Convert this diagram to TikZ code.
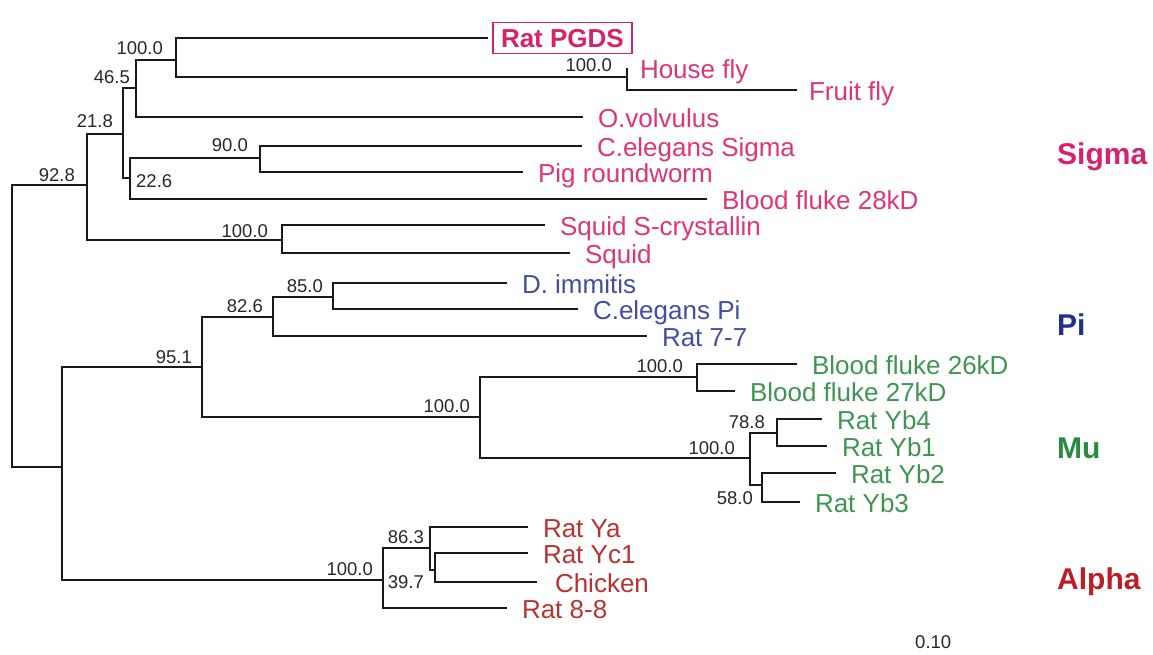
\documentclass[tikz,border=0pt]{standalone}
\usepackage{fontspec}
\setmainfont{Liberation Sans}
\definecolor{sigc}{RGB}{222,52,122}
\definecolor{sigb}{RGB}{214,34,108}
\definecolor{pic}{RGB}{66,78,160}
\definecolor{pib}{RGB}{32,48,140}
\definecolor{muc}{RGB}{62,150,82}
\definecolor{mub}{RGB}{40,140,64}
\definecolor{alc}{RGB}{184,50,50}
\definecolor{alb}{RGB}{188,30,36}
\definecolor{numc}{RGB}{40,40,40}
\begin{document}
\begin{tikzpicture}[x=1pt,y=-1pt,
  br/.style={line width=2.1pt, draw=black!90},
  leaf/.style={anchor=west, inner sep=0pt, outer xsep=15pt, outer ysep=0pt,
    text height=21pt, text depth=0pt, font=\fontsize{26}{30}\selectfont},
  sigleaf/.style={leaf, text=sigc},
  pileaf/.style={leaf, text=pic},
  muleaf/.style={leaf, text=muc},
  alleaf/.style={leaf, text=alc},
  num/.style={anchor=base east, inner sep=0pt, text=numc, font=\fontsize{18.5}{20}\selectfont},
  grp/.style={anchor=base west, inner sep=0pt, font=\fontsize{30}{34}\selectfont\bfseries},
  pgdsbox/.style={anchor=west, draw=sigb, line width=1.6pt, text=sigb,
    inner xsep=8pt, inner ysep=6pt, outer xsep=5pt, outer ysep=0pt,
    text height=19pt, text depth=0pt, font=\fontsize{26}{30}\selectfont\bfseries}]
\useasboundingbox (0,0) rectangle (1153,655);

% internal nodes
\coordinate (root) at (12,326);
\coordinate (n928) at (87,185);
\coordinate (n218) at (123,134);
\coordinate (n465) at (136,88);
\coordinate (ntop) at (176,60);
\coordinate (nfly) at (627,77);
\coordinate (n226) at (130,178);
\coordinate (n900) at (260,158);
\coordinate (nsq) at (282,240);
\coordinate (a1) at (62,467);
\coordinate (n951) at (202,367);
\coordinate (n826) at (273,317);
\coordinate (n850) at (333,297);
\coordinate (nmu) at (480,417);
\coordinate (nbf) at (697,377);
\coordinate (nyb) at (750,458);
\coordinate (n788) at (777,433);
\coordinate (n580) at (762,485);
\coordinate (nal) at (383,580);
\coordinate (n863) at (430,548);
\coordinate (n397) at (435,570);

% leaves
\node[pgdsbox] (pgds) at (488,38) {Rat PGDS};
\node[sigleaf, outer xsep=13pt] (house) at (627,68) {House fly};
\node[sigleaf, outer xsep=12pt] (fruit) at (797,90) {Fruit fly};
\node[sigleaf] (ovol) at (583,117) {O.volvulus};
\node[sigleaf] (celS) at (582,146) {C.elegans Sigma};
\node[sigleaf] (pig) at (523,172) {Pig roundworm};
\node[sigleaf] (bf28) at (707,199) {Blood fluke 28kD};
\node[sigleaf] (sqS) at (545,225) {Squid S-crystallin};
\node[sigleaf] (sq) at (570,253) {Squid};
\node[pileaf] (dimm) at (507,283) {D. immitis};
\node[pileaf] (celPi) at (578,309) {C.elegans Pi};
\node[pileaf] (r77) at (647,336) {Rat 7-7};
\node[muleaf] (bf26) at (797,364) {Blood fluke 26kD};
\node[muleaf] (bf27) at (735,391) {Blood fluke 27kD};
\node[muleaf] (yb4) at (822,419) {Rat Yb4};
\node[muleaf] (yb1) at (827,446) {Rat Yb1};
\node[muleaf] (yb2) at (836,473) {Rat Yb2};
\node[muleaf] (yb3) at (800,502) {Rat Yb3};
\node[alleaf] (ya) at (528,527) {Rat Ya};
\node[alleaf] (yc1) at (528,553) {Rat Yc1};
\node[alleaf, outer xsep=18pt] (chick) at (537,582) {Chicken};
\node[alleaf] (r88) at (507,608) {Rat 8-8};

% branches
\draw[br] (root) |- (n928);
\draw[br] (root) |- (a1);
\draw[br] (n928) |- (n218);
\draw[br] (n928) |- (nsq);
\draw[br] (n218) |- (n465);
\draw[br] (n218) |- (n226);
\draw[br] (n465) |- (ntop);
\draw[br] (n465) |- (ovol.west);
\draw[br] (ntop) |- (pgds.west);
\draw[br] (ntop) |- (nfly);
\draw[br] (nfly) |- (house.west);
\draw[br] (nfly) |- (fruit.west);
\draw[br] (n226) |- (n900);
\draw[br] (n226) |- (bf28.west);
\draw[br] (n900) |- (celS.west);
\draw[br] (n900) |- (pig.west);
\draw[br] (nsq) |- (sqS.west);
\draw[br] (nsq) |- (sq.west);
\draw[br] (a1) |- (n951);
\draw[br] (a1) |- (nal);
\draw[br] (n951) |- (n826);
\draw[br] (n951) |- (nmu);
\draw[br] (n826) |- (n850);
\draw[br] (n826) |- (r77.west);
\draw[br] (n850) |- (dimm.west);
\draw[br] (n850) |- (celPi.west);
\draw[br] (nmu) |- (nbf);
\draw[br] (nmu) |- (nyb);
\draw[br] (nbf) |- (bf26.west);
\draw[br] (nbf) |- (bf27.west);
\draw[br] (nyb) |- (n788);
\draw[br] (nyb) |- (n580);
\draw[br] (n788) |- (yb4.west);
\draw[br] (n788) |- (yb1.west);
\draw[br] (n580) |- (yb2.west);
\draw[br] (n580) |- (yb3.west);
\draw[br] (nal) |- (n863);
\draw[br] (nal) |- (r88.west);
\draw[br] (n863) |- (ya.west);
\draw[br] (n863) |- (n397);
\draw[br] (n397) |- (yc1.west);
\draw[br] (n397) |- (chick.west);

% bootstrap values
\node[num] (b1) at (163,55) {100.0};
\node[num] (b2) at (130,84) {46.5};
\node[num] (b3) at (113,128) {21.8};
\node[num] (b4) at (75,182) {92.8};
\node[num] (b5) at (248,152) {90.0};
\node[num, anchor=base west] (b6) at (136,187) {22.6};
\node[num] (b7) at (268,237) {100.0};
\node[num] (b8) at (612,72) {100.0};
\node[num] (b9) at (192,363) {95.1};
\node[num] (b10) at (263,312) {82.6};
\node[num] (b11) at (323,292) {85.0};
\node[num] (b12) at (470,412) {100.0};
\node[num] (b13) at (683,372) {100.0};
\node[num] (b14) at (765,428) {78.8};
\node[num] (b15) at (735,454) {100.0};
\node[num] (b16) at (753,504) {58.0};
\node[num] (b17) at (373,575) {100.0};
\node[num] (b18) at (424,543) {86.3};
\node[num] (b19) at (424,588) {39.7};
\node[num, anchor=base west] (scale) at (915,648) {0.10};

% group labels
\node[grp, text=sigb] (gsig) at (1057,165) {Sigma};
\node[grp, text=pib] (gpi) at (1057,335) {Pi};
\node[grp, text=mub] (gmu) at (1057,458) {Mu};
\node[grp, text=alb] (gal) at (1057,589) {Alpha};
\end{tikzpicture}
\end{document}
